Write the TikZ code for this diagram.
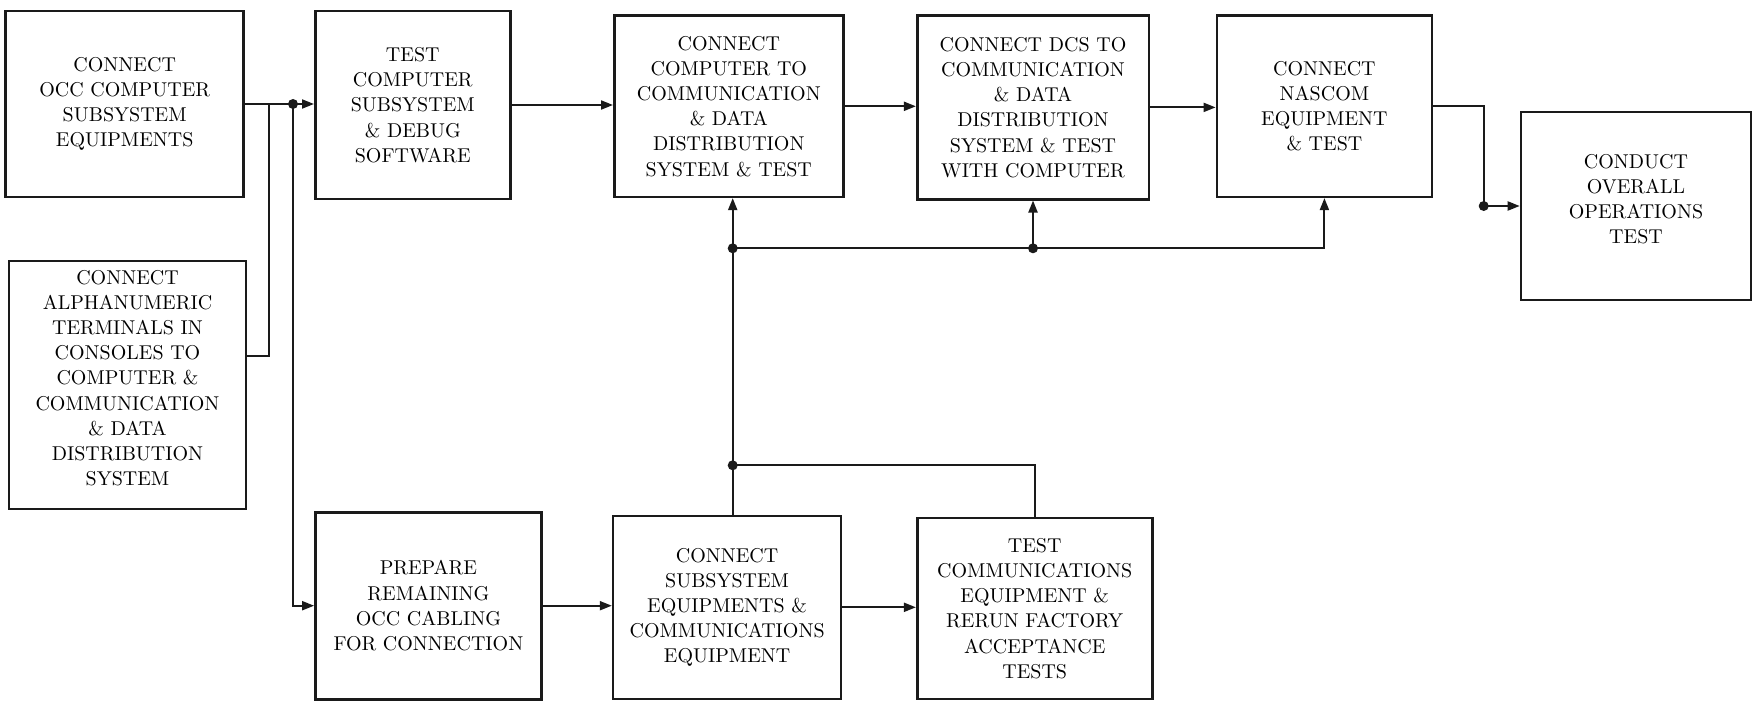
\documentclass[tikz,border=0pt]{standalone}
\usepackage{tikz}
\usepackage{xcolor}
\usetikzlibrary{arrows.meta,positioning,calc}
\definecolor{ink}{HTML}{1A1A1A}

\begin{document}
\begin{tikzpicture}[x=0.5pt,y=-0.5pt,
    font=\fontsize{10}{12.6}\selectfont,
    stepbox/.style={draw=ink,line width=1.3pt,align=center,inner sep=0pt},
    raised/.style={label={[align=center,yshift=3.4pt]center:{#1}}},
    flow/.style={ink,line width=1pt},
    arr/.style={flow,-{Triangle[length=6pt,width=4.5pt]}},
    junction/.style={circle,fill=ink,inner sep=0pt,minimum size=5pt}]
  \useasboundingbox (0,0) rectangle (1754,701);

  % top row
  \node[stepbox,minimum width=119pt,minimum height=93pt] (occ) at (124.7,104)
    {CONNECT\\OCC COMPUTER\\SUBSYSTEM\\EQUIPMENTS};
  \node[stepbox,minimum width=97.5pt,minimum height=94pt] (testcomp) at (412.8,105)
    {TEST\\COMPUTER\\SUBSYSTEM\\\& DEBUG\\SOFTWARE};
  \node[stepbox,minimum width=114.5pt,minimum height=90.5pt] (commdds) at (728.8,106.3)
    {CONNECT\\COMPUTER TO\\COMMUNICATION\\\& DATA\\DISTRIBUTION\\SYSTEM \& TEST};
  \node[stepbox,minimum width=115.8pt,minimum height=91.8pt] (dcs) at (1033,107.4)
    {CONNECT DCS TO\\COMMUNICATION\\\& DATA\\DISTRIBUTION\\SYSTEM \& TEST\\WITH COMPUTER};
  \node[stepbox,minimum width=107.5pt,minimum height=90.5pt] (nascom) at (1324.4,106.3)
    {CONNECT\\NASCOM\\EQUIPMENT\\\& TEST};
  \node[stepbox,minimum width=115pt,minimum height=94pt,
        raised={CONDUCT\\OVERALL\\OPERATIONS\\TEST}] (overall) at (1636,206) {};

  % left column and bottom row
  \node[stepbox,minimum width=118.5pt,minimum height=124pt,
        raised={\fontsize{10}{11.9}\selectfont CONNECT\\ALPHANUMERIC\\TERMINALS IN\\CONSOLES TO\\COMPUTER \&\\COMMUNICATION\\\& DATA\\DISTRIBUTION\\SYSTEM}]
        (alpha) at (127.5,384.8) {};
  \node[stepbox,minimum width=113pt,minimum height=93.5pt] (cabling) at (428.4,605.7)
    {PREPARE\\REMAINING\\OCC CABLING\\FOR CONNECTION};
  \node[stepbox,minimum width=114pt,minimum height=91.5pt] (subsys) at (727.1,607.3)
    {CONNECT\\SUBSYSTEM\\EQUIPMENTS \&\\COMMUNICATIONS\\EQUIPMENT};
  \node[stepbox,minimum width=117.5pt,minimum height=90.5pt] (facttest) at (1034.7,608.5)
    {TEST\\COMMUNICATIONS\\EQUIPMENT \&\\RERUN FACTORY\\ACCEPTANCE\\TESTS};

  % branch points
  \coordinate (merge) at (268.5,104);
  \coordinate (split) at (293,104);
  \coordinate (hightap) at (732.7,248.3);
  \coordinate (lowtap) at (732.7,465.3);
  \coordinate (dcstap) at (dcs.south |- hightap);
  \path (overall.west) ++(-36,0) coordinate (drop);

  % connectors
  \draw[flow] (occ.east) -- (split);
  \draw[arr] (split) -- (testcomp.west |- split);
  \draw[flow] ($(alpha.east)+(0,-29)$) -| (merge);
  \draw[arr] (split) |- (cabling.west);
  \draw[arr] (testcomp.east) -- (testcomp.east -| commdds.west);
  \draw[arr] (commdds.east) -- (commdds.east -| dcs.west);
  \draw[arr] (dcs.east) -- (dcs.east -| nascom.west);
  \draw[flow] (nascom.east) -| (drop);
  \draw[arr] (drop) -- (overall.west);
  \draw[arr] (cabling.east) -- (cabling.east -| subsys.west);
  \draw[arr] (subsys.east) -- (subsys.east -| facttest.west);
  \draw[flow] (subsys.north -| lowtap) -- (lowtap);
  \draw[arr] (lowtap) -- (commdds.south -| lowtap);
  \draw[flow] (lowtap) -| (facttest.north);
  \draw[arr] (hightap) -| (nascom.south);
  \draw[arr] (dcstap) -- (dcs.south);

  \foreach \j in {split,drop,hightap,lowtap,dcstap}
    \node[junction] at (\j) {};
\end{tikzpicture}
\end{document}
